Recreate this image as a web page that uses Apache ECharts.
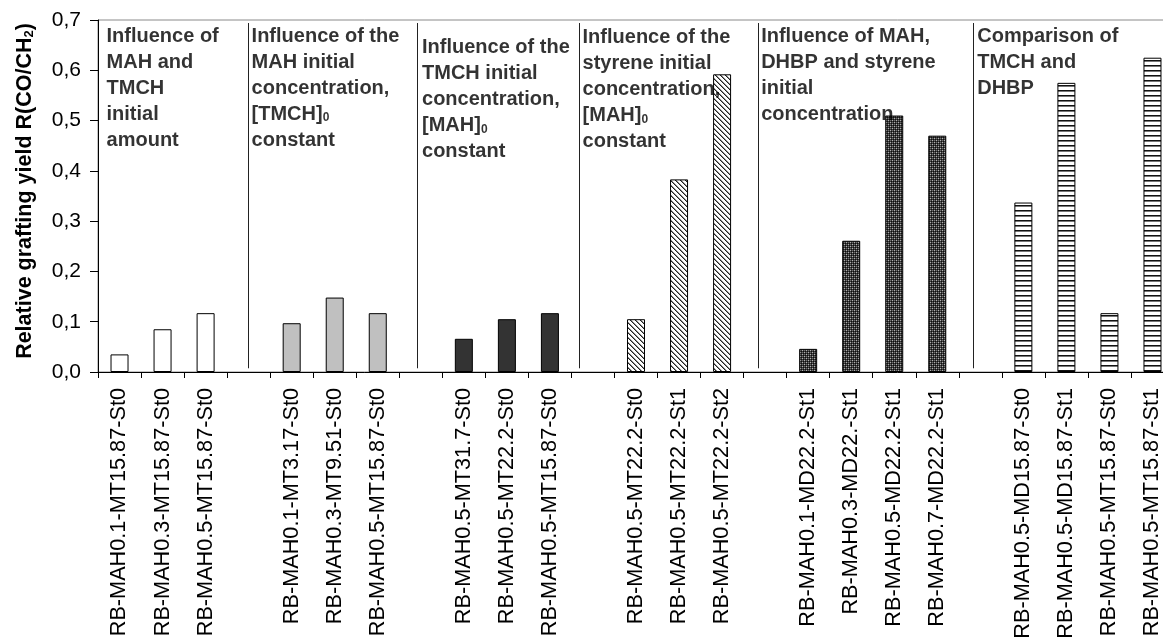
<!DOCTYPE html>
<html><head><meta charset="utf-8">
<script src="https://cdn.jsdelivr.net/npm/echarts@6/dist/echarts.min.js"></script>
<style>html,body{margin:0;padding:0;background:#fff}#c{width:1163px;height:641px}</style>
</head><body><div id="c"></div>
<script>
// ---- data ----
const group1Cats = ['RB-MAH0.1-MT15.87-St0', 'RB-MAH0.3-MT15.87-St0', 'RB-MAH0.5-MT15.87-St0'];
const group1Vals = [0.035, 0.085, 0.117];
const group2Cats = ['RB-MAH0.1-MT3.17-St0', 'RB-MAH0.3-MT9.51-St0', 'RB-MAH0.5-MT15.87-St0'];
const group2Vals = [0.097, 0.148, 0.117];
const group3Cats = ['RB-MAH0.5-MT31.7-St0', 'RB-MAH0.5-MT22.2-St0', 'RB-MAH0.5-MT15.87-St0'];
const group3Vals = [0.066, 0.105, 0.117];
const group4Cats = ['RB-MAH0.5-MT22.2-St0', 'RB-MAH0.5-MT22.2-St1', 'RB-MAH0.5-MT22.2-St2'];
const group4Vals = [0.105, 0.383, 0.592];
const group5Cats = ['RB-MAH0.1-MD22.2-St1', 'RB-MAH0.3-MD22.-St1', 'RB-MAH0.5-MD22.2-St1', 'RB-MAH0.7-MD22.2-St1'];
const group5Vals = [0.046, 0.261, 0.510, 0.470];
const group6Cats = ['RB-MAH0.5-MD15.87-St0', 'RB-MAH0.5-MD15.87-St1', 'RB-MAH0.5-MT15.87-St0', 'RB-MAH0.5-MT15.87-St1'];
const group6Vals = [0.337, 0.575, 0.117, 0.625];

const groupTitles = [
  'Influence of\nMAH and\nTMCH\ninitial\namount',
  'Influence of the\nMAH initial\nconcentration,\n[TMCH]{s|0}\nconstant',
  'Influence of the\nTMCH initial\nconcentration,\n[MAH]{s|0}\nconstant',
  'Influence of the\nstyrene initial\nconcentration,\n[MAH]{s|0}\nconstant',
  'Influence of MAH,\nDHBP and styrene\ninitial\nconcentration',
  'Comparison of\nTMCH and\nDHBP'
];
// anchors of the group titles and dividers, in category-index units / y values
const titleAnchorX = [-0.29, 3.08, 7.04, 10.77, 14.92, 19.94];
const titleAnchorY = [0.6927, 0.6927, 0.6696, 0.6895, 0.6927, 0.6927];
const dividerX = [2.98, 6.92, 10.67, 14.83, 19.83];
const dividerTop = 0.694, dividerBottom = 0.0074;

const yMin = 0, yMax = 0.7, yStep = 0.1;
const yAxisTitle = 'Relative grafting yield R(CO/CH{s|2})';

// ---- fills ----
function tile(w, h, fn) {
  const c = document.createElement('canvas'); c.width = w; c.height = h;
  const ctx = c.getContext('2d');
  for (let y = 0; y < h; y++) for (let x = 0; x < w; x++) { ctx.fillStyle = fn(x, y); ctx.fillRect(x, y, 1, 1); }
  return { image: c, repeat: 'repeat' };
}
const diagFill = tile(5, 5, (x, y) => { const k = ((x - y) % 5 + 5) % 5; return k === 0 ? '#222' : (k === 1 ? '#8a8a8a' : '#fff'); });
const crossFill = tile(4, 4, (x, y) => {
  if (x % 2 === 0 && y % 2 === 0) return ((x + y) % 4 === 0) ? '#b0b0b0' : '#707070';
  if (x % 2 === 1 && y % 2 === 1) return '#0e0e0e';
  return '#3a3a3a';
});
const stripeFill = tile(1, 5, (x, y) => y === 0 ? '#111' : (y === 1 ? '#777' : '#fff'));
const groupFills = ['#ffffff', '#c0c0c0', '#333333', diagFill, crossFill, stripeFill];

// ---- build ----
const groupsCats = [group1Cats, group2Cats, group3Cats, group4Cats, group5Cats, group6Cats];
const groupsVals = [group1Vals, group2Vals, group3Vals, group4Vals, group5Vals, group6Vals];
const categories = [], barData = [];
groupsCats.forEach((cats, g) => {
  cats.forEach((c, i) => {
    categories.push(c);
    barData.push({ value: groupsVals[g][i], itemStyle: { color: groupFills[g] } });
  });
  if (g < groupsCats.length - 1) { categories.push(' '.repeat(g + 1)); barData.push('-'); }
});
const nSlots = categories.length;

const FONT = 'Liberation Sans, Arial, Helvetica, sans-serif';
const chart = echarts.init(document.getElementById('c'), null, { renderer: 'canvas' });
chart.setOption({
  animation: false,
  backgroundColor: '#fff',
  grid: { left: 98, top: 20, right: -11, bottom: 269, show: true, borderColor: '#8a8a8a', borderWidth: 1,
          containLabel: false, outerBoundsMode: 'none' },
  xAxis: [{
    type: 'category', data: categories,
    axisLine: { onZero: false, lineStyle: { color: '#000', width: 1 } },
    axisTick: { show: true, length: 6, interval: 0, lineStyle: { color: '#000' } },
    axisLabel: { rotate: 90, interval: 0, fontSize: 21.7, color: '#000', fontFamily: FONT, margin: 16 },
    splitLine: { show: false }
  }, {
    type: 'value', min: -0.5, max: nSlots - 0.5, show: false, splitLine: { show: false }
  }],
  yAxis: {
    type: 'value', min: yMin, max: yMax, interval: yStep,
    axisLine: { show: true, onZero: false, lineStyle: { color: '#000', width: 1 } },
    axisTick: { show: true, length: 8, lineStyle: { color: '#000' } },
    splitLine: { show: false },
    axisLabel: { fontSize: 21, color: '#000', fontFamily: FONT, margin: 17,
                 formatter: v => v.toFixed(1).replace('.', ',') },
    name: yAxisTitle, nameLocation: 'middle', nameGap: 62,
    nameTextStyle: { fontSize: 21.5, fontWeight: 'bold', color: '#000', fontFamily: FONT, padding: [0, 0, 0, 10],
                     rich: { s: { fontSize: 13, fontWeight: 'bold', color: '#000', fontFamily: FONT, padding: [9, 0, 0, 0] } } }
  },
  series: [{
    type: 'bar', xAxisIndex: 0, yAxisIndex: 0, data: barData, barWidth: 18,
    itemStyle: { borderColor: '#000', borderWidth: 1 },
    emphasis: { disabled: true }, silent: true
  }, {
    type: 'scatter', xAxisIndex: 1, yAxisIndex: 0, symbolSize: 1,
    itemStyle: { color: 'rgba(0,0,0,0)' }, silent: true,
    data: groupTitles.map((t, i) => ({ value: [titleAnchorX[i], titleAnchorY[i]], label: { formatter: t } })),
    label: { show: true, position: [0, 0], align: 'left', verticalAlign: 'top',
             fontSize: 20, fontWeight: 'bold', color: '#000', fontFamily: FONT, lineHeight: 26,
             rich: { s: { fontSize: 12, fontWeight: 'bold', color: '#000', fontFamily: FONT, lineHeight: 26, padding: [8, 0, 0, 0] } } },
    markLine: {
      silent: true, symbol: ['none', 'none'], label: { show: false },
      lineStyle: { color: '#222', width: 1, type: 'solid' },
      data: dividerX.map(x => [{ coord: [x, dividerTop] }, { coord: [x, dividerBottom] }])
    }
  }]
});
</script></body></html>
